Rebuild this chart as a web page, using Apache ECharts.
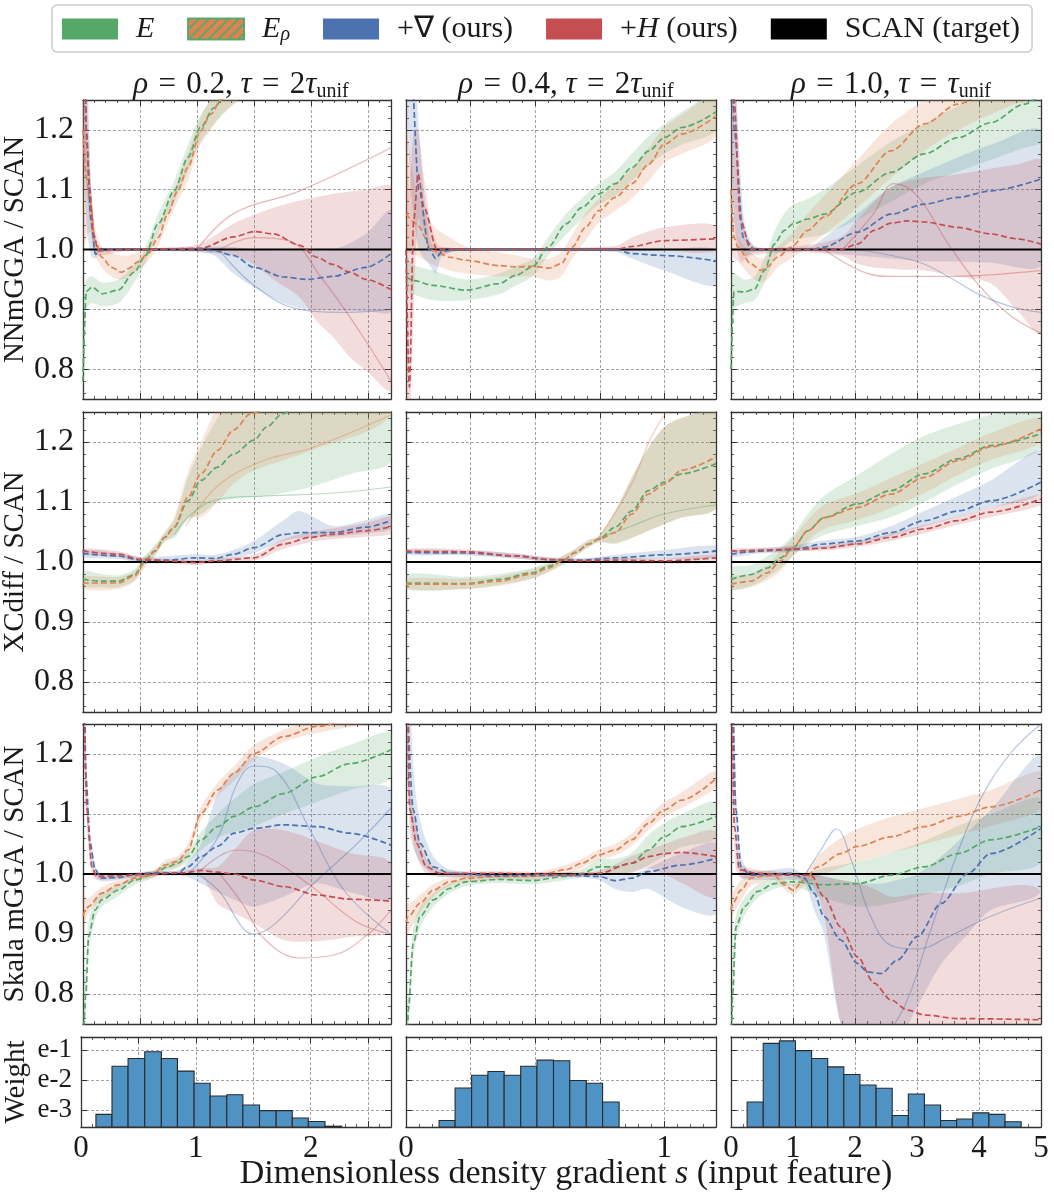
<!DOCTYPE html>
<html>
<head>
<meta charset="utf-8">
<title>Enhancement factor ratio vs SCAN</title>
<script src="https://cdn.jsdelivr.net/npm/echarts@6/dist/echarts.min.js"></script>
<style>
  html, body { margin: 0; background: #fff; }
  #chart { width: 1054px; height: 1200px; }
</style>
</head>
<body>
<div id="chart"></div>
<script>
// rows are [s, lower, mean, upper]
// --- NNmGGA, rho = 0.2
const nn02_E = [[0, 0.70, 0.78, 0.92], [0.03, 0.90, 0.93, 0.95], [0.08, 0.91, 0.937, 0.955], [0.17, 0.905, 0.926, 0.945], [0.31, 0.91, 0.932, 0.95], [0.45, 0.945, 0.962, 0.975], [0.54, 0.975, 0.987, 1.0], [0.66, 1.03, 1.043, 1.06], [0.80, 1.08, 1.098, 1.115], [0.92, 1.13, 1.154, 1.175], [1.03, 1.18, 1.204, 1.225], [1.15, 1.21, 1.237, 1.26], [1.3, 1.24, 1.28, 1.32], [1.5, 1.28, 1.33, 1.38]]
const nn02_Erho = [[0, 1.0, 1.2, 1.35], [0.03, 1.02, 1.12, 1.2], [0.064, 1.03, 1.08, 1.12], [0.107, 0.99, 1.015, 1.04], [0.165, 0.97, 0.987, 1.005], [0.25, 0.955, 0.97, 0.995], [0.34, 0.95, 0.962, 0.99], [0.40, 0.955, 0.968, 0.99], [0.48, 0.965, 0.979, 0.995], [0.57, 0.98, 0.993, 1.005], [0.66, 1.005, 1.02, 1.035], [0.745, 1.045, 1.06, 1.075], [0.83, 1.08, 1.098, 1.115], [0.92, 1.115, 1.137, 1.16], [1.03, 1.175, 1.198, 1.22], [1.12, 1.2, 1.226, 1.25], [1.21, 1.225, 1.25, 1.275], [1.4, 1.26, 1.3, 1.34]]
const nn02_Grad = [[0, 1.2, 1.6, 1.8], [0.03, 1.05, 1.2, 1.4], [0.07, 0.99, 1.05, 1.12], [0.11, 0.985, 0.992, 1.0], [0.15, 0.995, 0.999, 1.003], [0.4, 0.998, 1.0, 1.002], [0.8, 0.998, 1.0, 1.003], [1.0, 0.997, 1.0, 1.004], [1.15, 0.99, 0.998, 1.005], [1.32, 0.96, 0.99, 1.004], [1.5, 0.937, 0.97, 1.0], [1.76, 0.91, 0.954, 0.998], [1.96, 0.9, 0.95, 0.998], [2.19, 0.898, 0.955, 1.0], [2.48, 0.897, 0.97, 1.026], [2.7, 0.897, 0.993, 1.065]]
const nn02_Hess = [[0, 1.2, 1.6, 1.8], [0.035, 1.1, 1.176, 1.3], [0.055, 1.06, 1.109, 1.16], [0.093, 1.0, 1.026, 1.05], [0.135, 0.99, 0.998, 1.005], [0.4, 0.998, 1.0, 1.002], [0.8, 0.997, 1.001, 1.004], [1.03, 0.995, 1.002, 1.01], [1.32, 0.99, 1.021, 1.043], [1.5, 0.975, 1.03, 1.058], [1.67, 0.95, 1.026, 1.07], [1.9, 0.92, 1.007, 1.082], [2.05, 0.88, 0.987, 1.088], [2.19, 0.854, 0.975, 1.093], [2.34, 0.82, 0.962, 1.097], [2.48, 0.798, 0.95, 1.1], [2.7, 0.765, 0.933, 1.104]]
const nn02_Hess_run1 = [[1.0, 1.0], [1.32, 1.06], [1.9, 1.098], [2.7, 1.17]]
const nn02_Hess_run2 = [[1.2, 1.0], [1.5, 1.02], [1.8, 1.015], [2.1, 0.95], [2.4, 0.87], [2.7, 0.78]]
const nn02_Grad_run1 = [[1.2, 0.998], [1.5, 0.94], [1.9, 0.9], [2.3, 0.895], [2.7, 0.9]]

// --- NNmGGA, rho = 0.4
const nn04_E = [[0, 0.93, 0.955, 0.99], [0.028, 0.925, 0.948, 0.975], [0.105, 0.915, 0.94, 0.965], [0.233, 0.915, 0.932, 0.95], [0.36, 0.925, 0.943, 0.96], [0.426, 0.94, 0.957, 0.972], [0.49, 0.955, 0.971, 0.985], [0.55, 0.99, 1.004, 1.02], [0.62, 1.025, 1.043, 1.06], [0.68, 1.05, 1.07, 1.085], [0.746, 1.075, 1.093, 1.11], [0.81, 1.09, 1.11, 1.13], [0.874, 1.115, 1.137, 1.16], [0.94, 1.14, 1.165, 1.19], [1.0, 1.16, 1.187, 1.21], [1.067, 1.175, 1.204, 1.23], [1.2, 1.2, 1.23, 1.26]]
const nn04_Erho = [[0, 1.0, 1.06, 1.2], [0.04, 0.99, 1.043, 1.1], [0.105, 0.975, 0.998, 1.04], [0.17, 0.965, 0.987, 1.02], [0.233, 0.96, 0.982, 1.005], [0.36, 0.955, 0.973, 0.995], [0.426, 0.955, 0.971, 0.99], [0.49, 0.955, 0.972, 0.985], [0.554, 0.948, 0.969, 0.985], [0.6, 0.955, 0.976, 0.995], [0.644, 0.985, 1.004, 1.025], [0.695, 1.015, 1.037, 1.06], [0.746, 1.045, 1.065, 1.085], [0.81, 1.065, 1.087, 1.11], [0.874, 1.085, 1.11, 1.135], [0.94, 1.115, 1.143, 1.17], [1.0, 1.145, 1.176, 1.205], [1.067, 1.16, 1.193, 1.225], [1.2, 1.19, 1.223, 1.26]]
const nn04_Grad = [[0, 1.3, 1.5, 1.6], [0.02, 1.1, 1.3, 1.45], [0.05, 1.0, 1.1, 1.2], [0.09, 0.975, 1.0, 1.02], [0.115, 0.96, 0.985, 0.999], [0.14, 0.99, 0.997, 1.003], [0.2, 0.998, 1.0, 1.002], [0.6, 0.998, 1.0, 1.002], [0.81, 0.996, 1.0, 1.003], [0.874, 0.985, 0.993, 1.001], [1.0, 0.965, 0.99, 1.0], [1.2, 0.94, 0.981, 0.999]]
const nn04_Hess = [[0, 0.75, 1.0, 1.3], [0.013, 0.7, 0.77, 1.1], [0.03, 0.9, 1.05, 1.2], [0.047, 1.05, 1.126, 1.2], [0.07, 1.03, 1.07, 1.12], [0.12, 0.99, 1.0, 1.01], [0.2, 0.998, 1.0, 1.002], [0.81, 0.997, 1.0, 1.006], [0.874, 0.997, 1.005, 1.02], [1.0, 0.998, 1.015, 1.037], [1.2, 0.998, 1.018, 1.04]]

// --- NNmGGA, rho = 1.0
const nn10_E = [[0, 0.7, 0.8, 0.95], [0.05, 0.9, 0.93, 0.96], [0.215, 0.91, 0.929, 0.95], [0.38, 0.915, 0.934, 0.955], [0.54, 0.945, 0.965, 0.985], [0.7, 0.985, 1.009, 1.03], [0.86, 1.005, 1.032, 1.06], [1.0, 1.015, 1.043, 1.075], [1.24, 1.02, 1.051, 1.085], [1.5, 1.025, 1.059, 1.1], [2.04, 1.05, 1.096, 1.14], [2.58, 1.08, 1.129, 1.18], [3.12, 1.11, 1.16, 1.21], [3.66, 1.13, 1.187, 1.24], [4.19, 1.15, 1.212, 1.26], [4.73, 1.17, 1.243, 1.28], [5.0, 1.18, 1.26, 1.3]]
const nn10_Erho = [[0, 1.0, 1.1, 1.3], [0.05, 0.985, 1.02, 1.05], [0.11, 0.98, 1.004, 1.02], [0.32, 0.955, 0.976, 0.995], [0.48, 0.945, 0.965, 0.985], [0.59, 0.95, 0.971, 0.99], [0.75, 0.97, 0.987, 1.005], [0.97, 0.985, 1.004, 1.025], [1.24, 1.005, 1.032, 1.06], [1.5, 1.025, 1.054, 1.09], [2.04, 1.07, 1.11, 1.15], [2.58, 1.12, 1.165, 1.21], [3.12, 1.165, 1.21, 1.25], [3.66, 1.2, 1.243, 1.28], [4.5, 1.24, 1.3, 1.35], [5.0, 1.26, 1.33, 1.38]]
const nn10_Grad = [[0, 1.3, 1.6, 1.8], [0.05, 1.05, 1.2, 1.4], [0.2, 0.99, 1.02, 1.06], [0.38, 0.995, 1.0, 1.005], [0.8, 0.997, 1.0, 1.003], [1.3, 0.997, 1.0, 1.005], [1.5, 0.995, 1.004, 1.02], [2.04, 0.99, 1.029, 1.06], [2.58, 0.985, 1.059, 1.104], [3.12, 0.98, 1.076, 1.13], [3.66, 0.98, 1.087, 1.154], [4.19, 0.978, 1.098, 1.175], [5.0, 0.975, 1.118, 1.198]]
const nn10_Hess = [[0, 1.3, 1.6, 1.8], [0.05, 1.05, 1.25, 1.4], [0.15, 0.98, 1.05, 1.1], [0.32, 0.99, 1.0, 1.01], [1.0, 0.995, 1.0, 1.005], [1.77, 0.99, 1.0, 1.02], [2.04, 0.976, 1.009, 1.05], [2.31, 0.97, 1.032, 1.08], [2.58, 0.968, 1.044, 1.104], [2.85, 0.966, 1.048, 1.115], [3.12, 0.965, 1.046, 1.12], [3.66, 0.955, 1.037, 1.126], [4.19, 0.943, 1.026, 1.135], [4.6, 0.9, 1.018, 1.142], [5.0, 0.86, 1.009, 1.148]]
const nn10_Hess_run1 = [[1.8, 1.0], [2.3, 1.06], [2.63, 1.11], [3.0, 1.09], [3.5, 1.01], [4.0, 0.94], [4.5, 0.89], [5.0, 0.86]]
const nn10_Hess_run2 = [[1.5, 1.0], [2.2, 0.96], [2.6, 0.955], [3.5, 0.955], [5.0, 0.965]]
const nn10_Grad_run1 = [[2.0, 1.0], [3.0, 0.98], [3.5, 0.955], [4.0, 0.925], [4.5, 0.905], [5.0, 0.895]]

// --- XCdiff, rho = 0.2
const xc02_E = [[0, 0.96, 0.971, 0.985], [0.165, 0.958, 0.968, 0.98], [0.31, 0.958, 0.968, 0.978], [0.455, 0.97, 0.979, 0.988], [0.54, 0.995, 1.002, 1.01], [0.63, 1.01, 1.018, 1.027], [0.716, 1.035, 1.041, 1.048], [0.80, 1.04, 1.058, 1.07], [0.92, 1.07, 1.102, 1.14], [1.035, 1.08, 1.136, 1.19], [1.18, 1.1, 1.158, 1.24], [1.32, 1.105, 1.18, 1.28], [1.5, 1.108, 1.203, 1.3], [1.61, 1.11, 1.225, 1.32], [1.75, 1.115, 1.247, 1.34], [2.0, 1.125, 1.28, 1.36], [2.35, 1.147, 1.3, 1.38], [2.7, 1.169, 1.33, 1.4]]
const xc02_Erho = [[0, 0.955, 0.965, 0.975], [0.31, 0.955, 0.965, 0.975], [0.455, 0.968, 0.977, 0.986], [0.54, 0.99, 0.999, 1.008], [0.63, 1.01, 1.018, 1.027], [0.716, 1.033, 1.041, 1.05], [0.80, 1.045, 1.058, 1.075], [0.92, 1.075, 1.108, 1.15], [1.035, 1.074, 1.147, 1.2], [1.18, 1.1, 1.186, 1.26], [1.32, 1.13, 1.22, 1.3], [1.47, 1.15, 1.247, 1.33], [2.0, 1.186, 1.32, 1.4], [2.7, 1.247, 1.4, 1.45]]
const xc02_Grad = [[0, 1.008, 1.014, 1.02], [0.31, 1.005, 1.01, 1.015], [0.51, 0.998, 1.003, 1.008], [0.75, 0.998, 1.003, 1.01], [0.98, 1.0, 1.007, 1.013], [1.16, 1.0, 1.006, 1.012], [1.32, 1.005, 1.013, 1.02], [1.5, 1.015, 1.024, 1.035], [1.76, 1.035, 1.046, 1.07], [1.9, 1.04, 1.049, 1.085], [2.19, 1.042, 1.049, 1.06], [2.48, 1.048, 1.058, 1.07], [2.7, 1.055, 1.069, 1.08]]
const xc02_Hess = [[0, 1.013, 1.018, 1.022], [0.31, 1.008, 1.013, 1.018], [0.51, 1.0, 1.004, 1.008], [0.75, 0.998, 1.002, 1.006], [0.98, 0.995, 0.999, 1.003], [1.18, 0.998, 1.002, 1.006], [1.5, 1.002, 1.007, 1.012], [1.76, 1.022, 1.03, 1.038], [1.99, 1.033, 1.041, 1.05], [2.19, 1.038, 1.046, 1.056], [2.48, 1.042, 1.052, 1.065], [2.7, 1.048, 1.059, 1.075]]
const xc02_E_run1 = [[0.8, 1.045], [0.95, 1.08], [1.2, 1.105], [1.6, 1.11], [2.2, 1.115], [2.7, 1.125]]
const xc02_Erho_run1 = [[0.9, 1.06], [1.2, 1.13], [1.6, 1.17], [2.0, 1.19], [2.7, 1.245]]

// --- XCdiff, rho = 0.4
const xc04_E = [[0, 0.955, 0.965, 0.98], [0.233, 0.955, 0.964, 0.975], [0.36, 0.962, 0.971, 0.98], [0.49, 0.973, 0.982, 0.99], [0.554, 0.985, 0.993, 1.0], [0.605, 0.995, 1.002, 1.01], [0.656, 1.01, 1.016, 1.022], [0.708, 1.025, 1.03, 1.037], [0.746, 1.033, 1.038, 1.043], [0.81, 1.03, 1.058, 1.085], [0.874, 1.04, 1.085, 1.141], [0.938, 1.052, 1.119, 1.19], [1.0, 1.063, 1.133, 1.225], [1.067, 1.074, 1.147, 1.24], [1.2, 1.091, 1.164, 1.25]]
const xc04_Erho = [[0, 0.955, 0.963, 0.972], [0.233, 0.955, 0.963, 0.972], [0.36, 0.96, 0.968, 0.976], [0.49, 0.972, 0.98, 0.988], [0.554, 0.983, 0.99, 0.997], [0.605, 0.995, 1.002, 1.01], [0.656, 1.01, 1.016, 1.022], [0.708, 1.025, 1.03, 1.037], [0.746, 1.033, 1.038, 1.043], [0.81, 1.032, 1.049, 1.085], [0.874, 1.04, 1.08, 1.141], [0.938, 1.052, 1.113, 1.19], [1.0, 1.063, 1.13, 1.225], [1.067, 1.074, 1.153, 1.24], [1.2, 1.091, 1.175, 1.25]]
const xc04_Grad = [[0, 1.012, 1.016, 1.02], [0.233, 1.011, 1.015, 1.019], [0.426, 1.006, 1.01, 1.014], [0.554, 1.001, 1.004, 1.007], [0.68, 1.0, 1.003, 1.006], [0.81, 1.003, 1.007, 1.012], [1.0, 1.005, 1.012, 1.02], [1.2, 1.008, 1.018, 1.027]]
const xc04_Hess = [[0, 1.014, 1.018, 1.022], [0.233, 1.013, 1.017, 1.021], [0.426, 1.006, 1.01, 1.014], [0.554, 1.0, 1.004, 1.008], [0.68, 0.998, 1.002, 1.006], [0.81, 0.998, 1.003, 1.007], [1.0, 0.997, 1.002, 1.006], [1.2, 1.0, 1.007, 1.012]]
const xc04_Erho_run1 = [[0.746, 1.04], [0.874, 1.13], [0.94, 1.2], [1.0, 1.245], [1.03, 1.26]]
const xc04_E_run1 = [[0.746, 1.04], [0.874, 1.06], [1.0, 1.08], [1.2, 1.095]]

// --- XCdiff, rho = 1.0
const xc10_E = [[0, 0.955, 0.971, 0.99], [0.32, 0.96, 0.979, 0.995], [0.59, 0.975, 0.99, 1.01], [0.8, 0.99, 1.007, 1.025], [1.0, 1.01, 1.024, 1.045], [1.24, 1.03, 1.052, 1.08], [1.5, 1.045, 1.074, 1.11], [2.04, 1.06, 1.097, 1.145], [2.58, 1.075, 1.119, 1.18], [3.12, 1.1, 1.147, 1.21], [3.66, 1.13, 1.172, 1.23], [4.19, 1.155, 1.194, 1.245], [5.0, 1.19, 1.214, 1.26]]
const xc10_Erho = [[0, 0.955, 0.963, 0.975], [0.32, 0.958, 0.968, 0.98], [0.59, 0.97, 0.982, 0.995], [0.8, 0.985, 1.002, 1.02], [1.0, 1.01, 1.024, 1.04], [1.24, 1.035, 1.052, 1.07], [1.5, 1.055, 1.074, 1.095], [2.04, 1.07, 1.091, 1.115], [2.58, 1.09, 1.113, 1.14], [3.12, 1.115, 1.141, 1.165], [3.66, 1.145, 1.169, 1.19], [4.19, 1.17, 1.192, 1.215], [5.0, 1.2, 1.222, 1.24]]
const xc10_Grad = [[0, 1.008, 1.013, 1.018], [0.43, 1.014, 1.018, 1.022], [1.0, 1.017, 1.021, 1.028], [1.5, 1.022, 1.03, 1.036], [2.04, 1.03, 1.035, 1.042], [2.58, 1.043, 1.049, 1.06], [3.12, 1.06, 1.069, 1.085], [3.66, 1.075, 1.085, 1.11], [4.19, 1.09, 1.102, 1.136], [5.0, 1.115, 1.133, 1.186]]
const xc10_Hess = [[0, 1.015, 1.018, 1.022], [1.0, 1.018, 1.021, 1.025], [1.5, 1.019, 1.023, 1.027], [2.04, 1.025, 1.03, 1.035], [2.58, 1.035, 1.041, 1.047], [3.12, 1.048, 1.055, 1.062], [3.66, 1.062, 1.069, 1.076], [4.19, 1.075, 1.083, 1.09], [5.0, 1.095, 1.105, 1.113]]

// --- Skala mGGA, rho = 0.2
const sk02_E = [[0, 0.6, 0.7, 0.8], [0.026, 0.78, 0.8, 0.85], [0.05, 0.87, 0.896, 0.92], [0.107, 0.925, 0.94, 0.955], [0.165, 0.945, 0.957, 0.968], [0.31, 0.963, 0.973, 0.982], [0.455, 0.982, 0.99, 0.997], [0.6, 0.992, 0.998, 1.004], [0.745, 1.005, 1.012, 1.02], [0.83, 1.01, 1.018, 1.026], [0.92, 1.02, 1.029, 1.038], [1.035, 1.04, 1.057, 1.07], [1.18, 1.06, 1.079, 1.1], [1.325, 1.07, 1.096, 1.125], [1.5, 1.08, 1.112, 1.15], [1.76, 1.1, 1.134, 1.17], [2.05, 1.12, 1.162, 1.195], [2.34, 1.14, 1.184, 1.215], [2.7, 1.16, 1.207, 1.235]]
const sk02_Erho = [[0, 0.9, 0.93, 0.98], [0.026, 0.925, 0.94, 0.96], [0.05, 0.935, 0.946, 0.96], [0.165, 0.958, 0.968, 0.978], [0.31, 0.975, 0.982, 0.99], [0.455, 0.988, 0.993, 0.998], [0.6, 0.993, 0.998, 1.003], [0.72, 1.007, 1.015, 1.023], [0.83, 1.012, 1.021, 1.03], [0.92, 1.03, 1.04, 1.05], [1.035, 1.09, 1.101, 1.112], [1.18, 1.13, 1.14, 1.152], [1.325, 1.155, 1.168, 1.18], [1.5, 1.19, 1.201, 1.215], [1.76, 1.22, 1.229, 1.24], [2.05, 1.235, 1.246, 1.26], [2.5, 1.25, 1.265, 1.28], [2.7, 1.255, 1.27, 1.285]]
const sk02_Grad = [[0, 1.3, 1.5, 1.6], [0.026, 1.13, 1.162, 1.2], [0.064, 1.03, 1.051, 1.07], [0.107, 0.998, 1.007, 1.015], [0.165, 0.988, 0.993, 0.998], [0.31, 0.99, 0.994, 0.999], [0.455, 0.995, 0.999, 1.002], [0.6, 0.998, 1.002, 1.005], [0.83, 0.998, 1.002, 1.006], [0.92, 0.995, 1.012, 1.02], [1.035, 0.984, 1.029, 1.051], [1.18, 0.97, 1.046, 1.134], [1.325, 0.957, 1.068, 1.17], [1.5, 0.946, 1.076, 1.196], [1.76, 0.962, 1.082, 1.184], [2.05, 0.984, 1.079, 1.151], [2.34, 0.97, 1.068, 1.146], [2.7, 0.96, 1.048, 1.14]]
const sk02_Hess = [[0, 1.3, 1.5, 1.6], [0.035, 1.08, 1.107, 1.14], [0.078, 1.0, 1.012, 1.025], [0.12, 0.99, 0.996, 1.002], [0.31, 0.993, 0.997, 1.001], [0.6, 0.996, 1.0, 1.004], [0.89, 0.998, 1.002, 1.006], [1.035, 0.998, 1.006, 1.01], [1.18, 0.951, 1.003, 1.012], [1.325, 0.935, 1.0, 1.04], [1.5, 0.918, 0.99, 1.073], [1.76, 0.89, 0.979, 1.073], [2.05, 0.888, 0.965, 1.055], [2.34, 0.895, 0.958, 1.035], [2.7, 0.907, 0.955, 1.018]]
const sk02_Grad_run1 = [[0.92, 1.0], [1.18, 1.06], [1.35, 1.15], [1.5, 1.18], [1.7, 1.17], [2.0, 1.07], [2.3, 0.97], [2.7, 0.9]]
const sk02_Grad_run2 = [[1.0, 1.0], [1.2, 0.97], [1.4, 0.91], [1.5, 0.9], [1.7, 0.92], [2.0, 0.98], [2.4, 1.05], [2.7, 1.11]]
const sk02_Hess_run1 = [[1.2, 1.0], [1.4, 0.95], [1.6, 0.89], [1.9, 0.86], [2.2, 0.865], [2.5, 0.9], [2.7, 0.94]]
const sk02_Hess_run2 = [[1.0, 1.0], [1.35, 1.04], [1.6, 1.03], [2.0, 0.98], [2.4, 0.92], [2.7, 0.9]]

// --- Skala mGGA, rho = 0.4
const sk04_E = [[0, 0.55, 0.65, 0.75], [0.009, 0.74, 0.773, 0.8], [0.028, 0.86, 0.884, 0.91], [0.054, 0.91, 0.929, 0.945], [0.105, 0.945, 0.957, 0.968], [0.169, 0.968, 0.976, 0.984], [0.233, 0.98, 0.987, 0.994], [0.36, 0.985, 0.991, 0.997], [0.49, 0.983, 0.989, 0.995], [0.618, 0.99, 0.996, 1.003], [0.682, 0.995, 1.001, 1.008], [0.746, 1.0, 1.012, 1.025], [0.81, 1.0, 1.012, 1.025], [0.874, 1.003, 1.018, 1.035], [0.938, 1.015, 1.04, 1.065], [1.0, 1.03, 1.062, 1.085], [1.067, 1.045, 1.079, 1.1], [1.2, 1.06, 1.096, 1.12]]
const sk04_Erho = [[0, 0.88, 0.92, 0.96], [0.009, 0.9, 0.929, 0.95], [0.054, 0.935, 0.951, 0.965], [0.105, 0.962, 0.973, 0.983], [0.169, 0.98, 0.987, 0.994], [0.233, 0.987, 0.993, 0.999], [0.36, 0.99, 0.996, 1.002], [0.49, 0.99, 0.996, 1.002], [0.618, 0.999, 1.007, 1.015], [0.682, 1.01, 1.018, 1.026], [0.746, 1.024, 1.032, 1.041], [0.81, 1.031, 1.04, 1.05], [0.874, 1.047, 1.057, 1.068], [0.938, 1.073, 1.084, 1.096], [1.0, 1.095, 1.107, 1.12], [1.067, 1.11, 1.123, 1.136], [1.2, 1.145, 1.159, 1.172]]
const sk04_Grad = [[0, 1.2, 1.35, 1.5], [0.028, 1.05, 1.107, 1.18], [0.054, 1.02, 1.051, 1.09], [0.105, 1.0, 1.012, 1.03], [0.169, 0.995, 1.001, 1.008], [0.36, 0.994, 0.997, 1.0], [0.618, 0.995, 0.998, 1.001], [0.746, 0.99, 0.996, 1.0], [0.81, 0.975, 0.989, 0.998], [0.874, 0.97, 0.993, 1.0], [0.938, 0.975, 1.004, 1.01], [1.067, 0.945, 1.015, 1.035], [1.2, 0.934, 1.026, 1.05]]
const sk04_Hess = [[0, 1.3, 1.5, 1.6], [0.015, 1.07, 1.107, 1.15], [0.041, 1.03, 1.051, 1.075], [0.079, 1.0, 1.012, 1.025], [0.131, 0.995, 1.001, 1.007], [0.36, 0.996, 1.001, 1.005], [0.618, 0.995, 0.999, 1.003], [0.746, 0.998, 1.001, 1.005], [0.874, 1.002, 1.018, 1.03], [0.938, 1.01, 1.029, 1.04], [1.0, 1.0, 1.034, 1.05], [1.067, 0.985, 1.036, 1.06], [1.2, 0.962, 1.029, 1.07]]

// --- Skala mGGA, rho = 1.0
const sk10_E = [[0, 0.55, 0.65, 0.75], [0.027, 0.76, 0.8, 0.85], [0.08, 0.89, 0.912, 0.93], [0.215, 0.93, 0.946, 0.96], [0.43, 0.96, 0.971, 0.982], [0.7, 0.975, 0.984, 0.993], [1.0, 0.98, 0.987, 0.995], [1.5, 0.96, 0.982, 1.01], [2.04, 0.946, 0.984, 1.02], [2.58, 0.951, 0.998, 1.035], [3.12, 0.965, 1.012, 1.055], [3.66, 0.98, 1.034, 1.08], [4.19, 1.0, 1.057, 1.1], [5.0, 1.02, 1.079, 1.125]]
const sk10_Erho = [[0, 0.9, 0.94, 0.97], [0.027, 0.93, 0.951, 0.97], [0.16, 0.955, 0.973, 0.99], [0.32, 0.98, 0.993, 1.005], [0.48, 0.985, 0.996, 1.005], [0.7, 0.99, 0.998, 1.005], [0.86, 0.975, 0.982, 0.99], [1.0, 0.965, 0.973, 0.982], [1.18, 0.98, 0.99, 1.0], [1.4, 0.995, 1.012, 1.03], [1.77, 1.01, 1.034, 1.06], [2.04, 1.02, 1.046, 1.075], [2.58, 1.035, 1.062, 1.095], [3.12, 1.05, 1.079, 1.11], [3.66, 1.065, 1.096, 1.125], [4.19, 1.08, 1.112, 1.14], [5.0, 1.11, 1.14, 1.17]]
const sk10_Grad = [[0, 1.3, 1.5, 1.6], [0.08, 1.05, 1.107, 1.15], [0.16, 0.995, 1.012, 1.03], [0.32, 0.99, 0.998, 1.005], [0.97, 0.99, 1.001, 1.01], [1.18, 0.985, 0.993, 1.0], [1.34, 0.94, 0.968, 0.999], [1.5, 0.9, 0.929, 0.996], [1.77, 0.75, 0.89, 0.99], [2.04, 0.7, 0.851, 0.985], [2.2, 0.7, 0.837, 0.984], [2.42, 0.7, 0.834, 0.984], [2.69, 0.72, 0.857, 0.99], [3.01, 0.78, 0.896, 1.0], [3.39, 0.85, 0.951, 1.029], [3.82, 0.9, 1.001, 1.07], [4.19, 0.94, 1.034, 1.107], [5.0, 0.973, 1.076, 1.196]]
const sk10_Hess = [[0, 1.3, 1.5, 1.6], [0.054, 1.04, 1.079, 1.12], [0.134, 0.995, 1.007, 1.02], [0.43, 0.995, 1.001, 1.007], [0.97, 0.993, 0.998, 1.003], [1.29, 0.985, 0.998, 1.0], [1.5, 0.93, 0.962, 0.996], [1.77, 0.75, 0.912, 0.99], [2.04, 0.7, 0.862, 0.985], [2.31, 0.7, 0.818, 0.975], [2.58, 0.7, 0.79, 0.962], [2.85, 0.7, 0.773, 0.965], [3.12, 0.7, 0.765, 0.968], [3.66, 0.7, 0.759, 0.968], [5.0, 0.7, 0.757, 0.97]]
const sk10_Grad_run1 = [[2.3, 0.7], [2.8, 0.78], [3.2, 0.9], [3.6, 1.02], [4.0, 1.12], [4.5, 1.2], [5.0, 1.25]]
const sk10_Grad_run2 = [[1.2, 1.0], [1.45, 1.04], [1.7, 1.075], [1.95, 1.02], [2.25, 0.93], [2.6, 0.88], [3.0, 0.875], [3.5, 0.895], [4.2, 0.93], [5.0, 0.96]]

// SCAN reference ratio
const scanRatio = 1.0

// histogram bin edges and weights (log scale)
const hist02_edges = [0.13, 0.27, 0.41, 0.555, 0.70, 0.84, 0.985, 1.125, 1.27, 1.41, 1.555, 1.70, 1.84, 1.98, 2.125, 2.27]
const hist02_weight = [0.00074, 0.029, 0.052, 0.087, 0.052, 0.020, 0.0079, 0.0030, 0.0033, 0.0015, 0.00098, 0.00098, 0.00056, 0.00043, 0.0003]
const hist04_edges = [0.128, 0.19, 0.254, 0.317, 0.38, 0.444, 0.507, 0.571, 0.634, 0.698, 0.761, 0.825]
const hist04_weight = [0.00046, 0.0055, 0.0145, 0.0195, 0.0145, 0.029, 0.046, 0.044, 0.0098, 0.0079, 0.0019]
const hist10_edges = [0.26, 0.52, 0.78, 1.04, 1.30, 1.56, 1.82, 2.08, 2.34, 2.60, 2.86, 3.12, 3.38, 3.64, 3.90, 4.16, 4.42, 4.68]
const hist10_weight = [0.0019, 0.166, 0.20, 0.095, 0.052, 0.0275, 0.0155, 0.0069, 0.0054, 0.00068, 0.0035, 0.0015, 0.00046, 0.00052, 0.00083, 0.00074, 0.00042]

const colTitles = [
  '{i|ρ}\u2004=\u20040.2, {i|τ}\u2004=\u20042{i|τ}{sub|unif}',
  '{i|ρ}\u2004=\u20040.4, {i|τ}\u2004=\u20042{i|τ}{sub|unif}',
  '{i|ρ}\u2004=\u20041.0, {i|τ}\u2004=\u2004{i|τ}{sub|unif}'
]
const rowNames = ['NNmGGA / SCAN', 'XCdiff / SCAN', 'Skala mGGA / SCAN', 'Weight']
const sMax = [2.7, 1.2, 5]
const sStep = [0.5, 0.25, 1]
const histMin = Math.pow(10, -3.55)
const histMax = Math.pow(10, -0.57)

const FONT = 'Liberation Serif'
const methods = ['E', 'Erho', 'Grad', 'Hess']
const colorOf = { E: '#55a868', Erho: '#dd8452', Grad: '#4c72b0', Hess: '#c44e52', SCAN: '#000000' }

const panels = [
  { g: 0, E: nn02_E, Erho: nn02_Erho, Grad: nn02_Grad, Hess: nn02_Hess, runs: [['Hess', nn02_Hess_run1], ['Hess', nn02_Hess_run2], ['Grad', nn02_Grad_run1]] },
  { g: 1, E: nn04_E, Erho: nn04_Erho, Grad: nn04_Grad, Hess: nn04_Hess, runs: [] },
  { g: 2, E: nn10_E, Erho: nn10_Erho, Grad: nn10_Grad, Hess: nn10_Hess, runs: [['Hess', nn10_Hess_run1], ['Hess', nn10_Hess_run2], ['Grad', nn10_Grad_run1]] },
  { g: 3, E: xc02_E, Erho: xc02_Erho, Grad: xc02_Grad, Hess: xc02_Hess, runs: [['E', xc02_E_run1], ['Erho', xc02_Erho_run1]] },
  { g: 4, E: xc04_E, Erho: xc04_Erho, Grad: xc04_Grad, Hess: xc04_Hess, runs: [['Erho', xc04_Erho_run1], ['E', xc04_E_run1]] },
  { g: 5, E: xc10_E, Erho: xc10_Erho, Grad: xc10_Grad, Hess: xc10_Hess, runs: [] },
  { g: 6, E: sk02_E, Erho: sk02_Erho, Grad: sk02_Grad, Hess: sk02_Hess, runs: [['Grad', sk02_Grad_run1], ['Grad', sk02_Grad_run2], ['Hess', sk02_Hess_run1], ['Hess', sk02_Hess_run2]] },
  { g: 7, E: sk04_E, Erho: sk04_Erho, Grad: sk04_Grad, Hess: sk04_Hess, runs: [] },
  { g: 8, E: sk10_E, Erho: sk10_Erho, Grad: sk10_Grad, Hess: sk10_Hess, runs: [['Grad', sk10_Grad_run1], ['Grad', sk10_Grad_run2]] }
]
const hists = [
  { g: 9, edges: hist02_edges, weight: hist02_weight },
  { g: 10, edges: hist04_edges, weight: hist04_weight },
  { g: 11, edges: hist10_edges, weight: hist10_weight }
]

const gridTop = [100, 412, 724, 1037]
const gridH = [299, 300, 300, 90]
const gridLeft = [81, 406, 731]
const gridW = 310

const ink = '#1a1a1a'
function richFor(size, lh) {
  const subSize = Math.round(size * 0.66)
  const subLh = Math.round(lh * 0.45)
  return {
    i: { fontFamily: FONT, fontStyle: 'italic', fontSize: size, color: ink, lineHeight: lh },
    sub: { fontFamily: FONT, fontSize: subSize, color: ink, verticalAlign: 'bottom', lineHeight: subLh },
    isub: { fontFamily: FONT, fontStyle: 'italic', fontSize: subSize, color: ink, verticalAlign: 'bottom', lineHeight: subLh }
  }
}

const isInt = v => Math.abs(v - Math.round(v)) < 1e-9

const grids = []
const xAxes = []
const yAxes = []
for (let r = 0; r < 4; r++) {
  for (let c = 0; c < 3; c++) {
    const g = grids.length
    const hist = r === 3
    grids.push({ left: gridLeft[c], top: gridTop[r], width: gridW, height: gridH[r] })
    const frame = { show: true, onZero: false, lineStyle: { color: '#333', width: 1.3 } }
    const ticks = { show: true, inside: true, length: 6, lineStyle: { color: '#333', width: 1 } }
    const minor = { show: true, splitNumber: 5, length: 3, lineStyle: { color: '#333', width: 0.8 } }
    const xBase = { type: 'value', gridIndex: g, min: 0, max: sMax[c], interval: sStep[c], axisLine: frame, axisTick: ticks, minorTick: minor }
    xAxes.push(Object.assign({}, xBase, {
      position: 'bottom',
      splitLine: { show: true, lineStyle: { color: '#8c8c8c', width: 0.8, type: [3, 2] } },
      axisLabel: {
        show: hist, fontFamily: FONT, fontSize: 31, color: ink, margin: 6,
        showMinLabel: true, showMaxLabel: true,
        formatter: v => isInt(v) ? String(Math.round(v)) : ''
      }
    }))
    xAxes.push(Object.assign({}, xBase, { position: 'top', axisLabel: { show: false }, splitLine: { show: false } }))

    const yBase = hist
      ? { type: 'log', logBase: 10, min: histMin, max: histMax }
      : { type: 'value', min: 0.75, max: 1.25 }
    Object.assign(yBase, { gridIndex: g, axisLine: frame, axisTick: ticks, minorTick: hist ? { show: false } : minor })
    yAxes.push(Object.assign({}, yBase, {
      position: 'left',
      name: c === 0 ? rowNames[r] : '',
      nameLocation: 'middle',
      nameRotate: 90,
      nameGap: hist ? 50 : 52,
      nameTextStyle: { fontFamily: FONT, fontSize: 29, color: ink },
      splitLine: { show: true, lineStyle: { color: '#8c8c8c', width: 0.8, type: [3, 2] } },
      axisLabel: {
        show: c === 0, fontFamily: FONT, fontSize: hist ? 27 : 32, color: ink, margin: 9,
        showMinLabel: false, showMaxLabel: false,
        formatter: hist
          ? v => { const e = Math.log10(v); return isInt(e) ? 'e' + Math.round(e) : '' }
          : v => v.toFixed(1)
      }
    }))
    yAxes.push(Object.assign({}, yBase, { position: 'right', axisLabel: { show: false }, splitLine: { show: false } }))
  }
}

const series = []

function bandSeries(rows, key, g) {
  return {
    type: 'custom', name: key, xAxisIndex: 2 * g, yAxisIndex: 2 * g, z: 1, clip: true, silent: true,
    data: rows, encode: { x: 0, y: 2 },
    itemStyle: { color: colorOf[key] },
    renderItem(params, api) {
      if (params.dataIndex !== 0) return
      const top = rows.map(p => api.coord([p[0], p[3]]))
      const bot = rows.map(p => api.coord([p[0], p[1]])).reverse()
      return {
        type: 'polygon',
        shape: { points: top.concat(bot), smooth: 0.3 },
        style: { fill: colorOf[key], opacity: 0.2 }
      }
    }
  }
}

panels.forEach(p => {
  const c = p.g % 3
  methods.forEach(key => {
    series.push(bandSeries(p[key], key, p.g))
  })
  p.runs.forEach(([key, pts]) => {
    series.push({
      type: 'line', name: key, xAxisIndex: 2 * p.g, yAxisIndex: 2 * p.g, z: 2, silent: true,
      data: pts, showSymbol: false, smooth: 0.4,
      lineStyle: { color: colorOf[key], width: 1.2, opacity: 0.4 }, itemStyle: { color: colorOf[key] }
    })
  })
  series.push({
    type: 'line', name: 'SCAN', xAxisIndex: 2 * p.g, yAxisIndex: 2 * p.g, z: 3, silent: true,
    data: [[0, scanRatio], [sMax[c], scanRatio]], showSymbol: false,
    lineStyle: { color: '#000', width: 2 }, itemStyle: { color: '#000' }
  })
  methods.forEach(key => {
    series.push({
      type: 'line', name: key, xAxisIndex: 2 * p.g, yAxisIndex: 2 * p.g, z: 4, silent: true,
      data: p[key].map(q => [q[0], q[2]]), showSymbol: false, smooth: 0.3, smoothMonotone: 'x',
      lineStyle: { color: colorOf[key], width: 1.7, type: [6, 3] }, itemStyle: { color: colorOf[key] }
    })
  })
})

hists.forEach(h => {
  series.push({
    type: 'custom', name: 'hist', xAxisIndex: 2 * h.g, yAxisIndex: 2 * h.g, clip: true, silent: true,
    data: h.weight.map((w, i) => [h.edges[i], h.edges[i + 1], w]),
    encode: { x: [0, 1], y: 2 },
    renderItem(params, api) {
      const p0 = api.coord([api.value(0), api.value(2)])
      const p1 = api.coord([api.value(1), histMin])
      return {
        type: 'rect',
        shape: { x: p0[0], y: p0[1], width: p1[0] - p0[0], height: p1[1] - p0[1] },
        style: { fill: '#4f93c5', stroke: '#2a2a2a', lineWidth: 1.1 }
      }
    }
  })
})

const legendLabel = {
  E: '{i|E}',
  Erho: '{i|E}{isub|ρ}',
  Grad: '+∇ (ours)',
  Hess: '+{i|H} (ours)',
  SCAN: 'SCAN (target)'
}

const titles = colTitles.map((t, c) => ({
  text: t,
  left: gridLeft[c] + gridW / 2,
  top: 63,
  textAlign: 'center',
  textStyle: { fontFamily: FONT, fontSize: 31, fontWeight: 'normal', color: ink, lineHeight: 34, rich: richFor(31, 34) }
}))
titles.push({
  text: 'Dimensionless density gradient {i|s} (input feature)',
  left: 561, top: 1150, textAlign: 'center',
  textStyle: { fontFamily: FONT, fontSize: 34, fontWeight: 'normal', color: ink, lineHeight: 38, rich: richFor(34, 38) }
})

const chart = echarts.init(document.getElementById('chart'), null, { renderer: 'canvas' })
chart.setOption({
  backgroundColor: '#fff',
  animation: false,
  title: titles,
  legend: {
    left: 52, top: 5,
    padding: [8, 12, 7, 10],
    itemGap: 33, itemWidth: 56, itemHeight: 21, icon: 'rect',
    borderColor: '#cccccc', borderWidth: 1.5, borderRadius: 5,
    selectedMode: false,
    data: [
      { name: 'E', itemStyle: { color: colorOf.E, opacity: 1 } },
      { name: 'Erho', itemStyle: { color: colorOf.Erho, opacity: 1, borderColor: colorOf.E, borderWidth: 1.5,
        decal: { symbol: 'rect', color: 'rgba(85,168,104,0.9)', dashArrayX: [1, 0], dashArrayY: [2, 5], rotation: -Math.PI / 4 } } },
      { name: 'Grad', itemStyle: { color: colorOf.Grad, opacity: 1 } },
      { name: 'Hess', itemStyle: { color: colorOf.Hess, opacity: 1 } },
      { name: 'SCAN', itemStyle: { color: '#000', opacity: 1 } }
    ],
    formatter: name => legendLabel[name],
    textStyle: { fontFamily: FONT, fontSize: 30, color: ink, lineHeight: 32, padding: [0, 0, 0, 13], rich: richFor(30, 32) }
  },
  grid: grids,
  xAxis: xAxes,
  yAxis: yAxes,
  series: series
})
</script>
</body>
</html>
